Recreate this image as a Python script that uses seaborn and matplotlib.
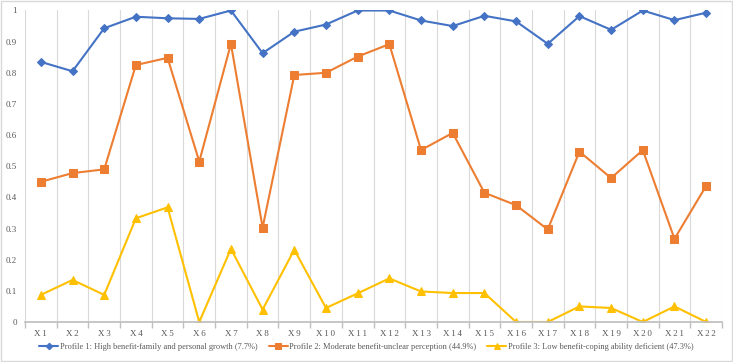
import matplotlib
matplotlib.use("Agg")
import matplotlib.pyplot as plt
import seaborn as sns
import numpy as np
import pandas as pd
from matplotlib.ticker import FuncFormatter, FixedLocator
from matplotlib.patches import Rectangle

categories = [f"X{i}" for i in range(1, 23)]
profile1 = [0.835, 0.805, 0.943, 0.980, 0.975, 0.973, 1.000, 0.863, 0.932, 0.955, 1.000,
            1.000, 0.968, 0.950, 0.983, 0.965, 0.893, 0.982, 0.938, 1.000, 0.969, 0.993]
profile2 = [0.450, 0.478, 0.490, 0.825, 0.848, 0.515, 0.893, 0.303, 0.793, 0.800, 0.852,
            0.892, 0.552, 0.607, 0.415, 0.375, 0.297, 0.547, 0.462, 0.552, 0.267, 0.437]
profile3 = [0.087, 0.135, 0.087, 0.333, 0.368, 0.000, 0.235, 0.040, 0.232, 0.045, 0.092,
            0.140, 0.098, 0.093, 0.093, 0.000, 0.000, 0.050, 0.045, 0.000, 0.050, 0.000]
labels = ["Profile 1: High benefit-family and personal growth (7.7%)",
          "Profile 2: Moderate benefit-unclear perception (44.9%)",
          "Profile 3: Low benefit-coping ability deficient (47.3%)"]

sns.set_theme(style="white")
plt.rcParams['font.family'] = ['Liberation Serif', 'DejaVu Serif']

fig = plt.figure(figsize=(7.33, 3.62), dpi=100)
ax = fig.add_axes([25/733, 1-322/362, (722-25)/733, (322-10.5)/362])

x = np.arange(len(categories))
styles = [("#4472C4", "D", 4.2), ("#ED7D31", "s", 5.8), ("#FFC000", "^", 6.2)]
for vals, lab, (col, mk, ms) in zip([profile1, profile2, profile3], labels, styles):
    sns.lineplot(x=x, y=vals, ax=ax, color=col, marker=mk, markersize=ms,
                 markeredgecolor=col, linewidth=1.5, label=lab, sort=False)

ax.set_xlim(-0.5, len(categories) - 0.5)
ax.set_ylim(0, 1)
ax.set_xticks(x)
ax.set_xticklabels(["\u2009".join(c) for c in categories])
ax.xaxis.set_minor_locator(FixedLocator(np.arange(-0.5, len(categories), 1.0)))
ax.set_yticks(np.arange(0, 1.01, 0.1))
ax.yaxis.set_major_formatter(FuncFormatter(
    lambda v, p: f"{int(round(v))}" if abs(v - round(v)) < 1e-9 else f"{v:.1f}"))
ax.grid(False)
ax.grid(which="minor", axis="x", color="#D9D9D9", linewidth=0.8)
for s in ["top", "right", "left"]:
    ax.spines[s].set_visible(False)
ax.spines["bottom"].set_color("#BFBFBF")
ax.tick_params(axis="x", which="major", length=0, labelsize=6.5, colors="#595959", pad=6)
ax.tick_params(axis="x", which="minor", length=4, color="#BFBFBF", bottom=True)
ax.tick_params(axis="y", length=0, labelsize=6.5, colors="#595959", pad=6)
ax.set_xlabel("")
ax.set_ylabel("")

ax.legend(loc="center", ncol=3, frameon=False, fontsize=6.0, handlelength=2.3,
          columnspacing=1.3, handletextpad=0.2, labelcolor="#595959", markerscale=0.8)
leg = ax.get_legend()
leg.set_bbox_to_anchor((0.5, 15/362), transform=fig.transFigure)

fig.patches.append(Rectangle((0.002, 0.003), 0.996, 0.994, transform=fig.transFigure,
                             fill=False, edgecolor="#D9D9D9", linewidth=1))

fig.savefig("out.png", dpi=100)
